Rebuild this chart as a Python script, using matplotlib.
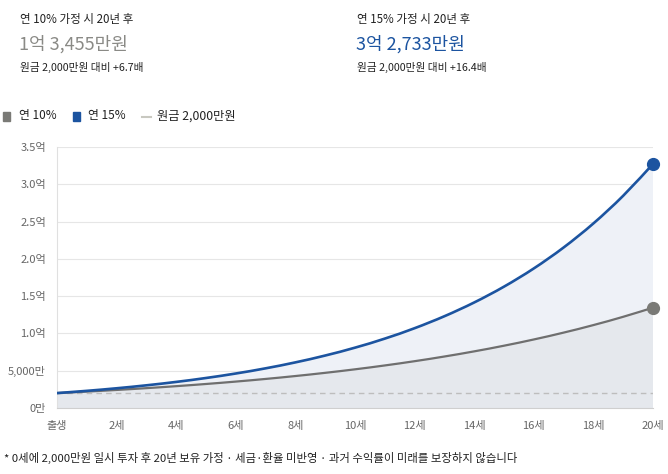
import matplotlib
matplotlib.use('Agg')
import matplotlib.pyplot as plt
from matplotlib.patches import Rectangle, PathPatch
from matplotlib.path import Path
from matplotlib.lines import Line2D

plt.rcParams['font.family'] = ['Noto Sans CJK KR', 'DejaVu Sans']

# values in 만원, age 0..20
ages = list(range(21))
rate10 = [2000, 2200, 2420, 2662, 2928, 3221, 3543, 3897, 4287, 4716, 5187,
          5706, 6277, 6905, 7595, 8354, 9190, 10109, 11120, 12232, 13455]
rate15 = [2000, 2300, 2645, 3042, 3498, 4023, 4626, 5320, 6118, 7036, 8091,
          9305, 10701, 12306, 14152, 16274, 18715, 21523, 24751, 28464, 32733]
principal = 2000

xtick_pos = [0, 2, 4, 6, 8, 10, 12, 14, 16, 18, 20]
xtick_labels = ['출생', '2세', '4세', '6세', '8세', '10세', '12세', '14세', '16세', '18세', '20세']
ytick_pos = [0, 5000, 10000, 15000, 20000, 25000, 30000, 35000]
ytick_labels = ['0만', '5,000만', '1.0억', '1.5억', '2.0억', '2.5억', '3.0억', '3.5억']

BLUE = '#1c54a0'
GRAY = '#7a7a76'


def smooth_path(xs, ys, close=False):
    # catmull-rom through the points, written as cubic bezier segments
    verts = [(xs[0], ys[0])]
    codes = [Path.MOVETO]
    n = len(xs)
    for i in range(n - 1):
        x0, y0 = (xs[i - 1], ys[i - 1]) if i > 0 else (xs[i], ys[i])
        x1, y1 = xs[i], ys[i]
        x2, y2 = xs[i + 1], ys[i + 1]
        x3, y3 = (xs[i + 2], ys[i + 2]) if i + 2 < n else (x2, y2)
        verts += [(x1 + (x2 - x0) / 6, y1 + (y2 - y0) / 6),
                  (x2 - (x3 - x1) / 6, y2 - (y3 - y1) / 6),
                  (x2, y2)]
        codes += [Path.CURVE4] * 3
    if close:
        verts += [(xs[-1], 0), (xs[0], 0), (xs[0], ys[0])]
        codes += [Path.LINETO, Path.LINETO, Path.CLOSEPOLY]
    return Path(verts, codes)


fig = plt.figure(figsize=(6.68, 4.74), dpi=100)
ax = fig.add_axes([57/668, 66/474, 596/668, 261/474])

ax.add_patch(PathPatch(smooth_path(ages, rate15, True), fc='#eef1f7', lw=0, zorder=1))
ax.add_patch(PathPatch(smooth_path(ages, rate10, True), fc='#e5e8ed', lw=0, zorder=1))
ax.axhline(principal, color='#bdbdbd', lw=1, ls=(0, (4, 3)), zorder=2)
ax.add_patch(PathPatch(smooth_path(ages, rate10), fc='none', ec='#6f6f6f', lw=1.6,
                       zorder=3, capstyle='round'))
ax.add_patch(PathPatch(smooth_path(ages, rate15), fc='none', ec=BLUE, lw=1.9,
                       zorder=4, capstyle='round'))
ax.plot(ages[-1], rate10[-1], 'o', ms=8.5, color=GRAY, zorder=5, clip_on=False)
ax.plot(ages[-1], rate15[-1], 'o', ms=8.5, color=BLUE, zorder=5, clip_on=False)

ax.set_xlim(0, 20)
ax.set_ylim(0, 35000)
ax.set_xticks(xtick_pos)
ax.set_xticklabels(xtick_labels)
ax.set_yticks(ytick_pos)
ax.set_yticklabels(ytick_labels)
ax.tick_params(axis='both', length=0, labelsize=8, colors='#666666')
ax.tick_params(axis='x', pad=9)
ax.tick_params(axis='y', pad=8)
ax.grid(axis='y', color='#e6e6e6', lw=0.8, zorder=0)
ax.set_axisbelow(True)
for s in ['top', 'right']:
    ax.spines[s].set_visible(False)
ax.spines['left'].set_color('#e0e0e0')
ax.spines['bottom'].set_color('#cfcfcf')


def px(x, y):
    return x / 668, 1 - y / 474


# header
fig.text(*px(20, 20), '연 10% 가정 시 20년 후', fontsize=8.3, color='#222222', va='center')
fig.text(*px(19, 44), '1억 3,455만원', fontsize=13, color='#8a8a86', va='center')
fig.text(*px(20, 67), '원금 2,000만원 대비 +6.7배', fontsize=7.7, color='#222222', va='center')
fig.text(*px(357, 20), '연 15% 가정 시 20년 후', fontsize=8.3, color='#222222', va='center')
fig.text(*px(356, 44), '3억 2,733만원', fontsize=13, color=BLUE, va='center')
fig.text(*px(357, 67), '원금 2,000만원 대비 +16.4배', fontsize=7.7, color='#222222', va='center')

# legend
fig.patches.append(Rectangle(px(3, 121), 7/668, 9/474, transform=fig.transFigure,
                             color=GRAY, figure=fig))
fig.text(*px(19, 116), '연 10%', fontsize=8.5, color='#222222', va='center')
fig.patches.append(Rectangle(px(73, 121), 7/668, 9/474, transform=fig.transFigure,
                             color=BLUE, figure=fig))
fig.text(*px(88, 116), '연 15%', fontsize=8.5, color='#222222', va='center')
fig.lines.append(Line2D([142/668, 151/668], [1 - 117/474] * 2, transform=fig.transFigure,
                        color='#c8c8c0', lw=1.5, figure=fig))
fig.text(*px(157, 116), '원금 2,000만원', fontsize=8.8, color='#222222', va='center')

fig.text(*px(4, 458), '* 0세에 2,000만원 일시 투자 후 20년 보유 가정 · 세금·환율 미반영 · 과거 수익률이 미래를 보장하지 않습니다',
         fontsize=8.2, color='#222222', va='center')

fig.savefig('out.png', dpi=100)
